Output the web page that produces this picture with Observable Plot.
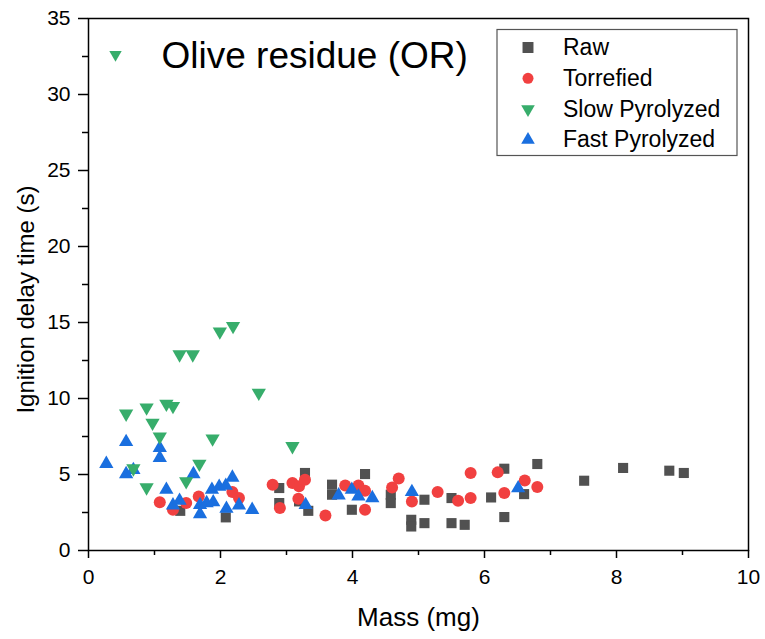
<!DOCTYPE html>
<html>
<head>
<meta charset="utf-8">
<script src="https://cdn.jsdelivr.net/npm/d3@7"></script>
<script src="https://cdn.jsdelivr.net/npm/@observablehq/plot@0.6"></script>
<style>
  html, body { margin: 0; padding: 0; background: #fff; }
  #chart { width: 765px; height: 639px; }
</style>
</head>
<body>
<div id="chart"></div>
<script>
// ---- Data ----
const seriesNames = ["Raw", "Torrefied", "Slow Pyrolyzed", "Fast Pyrolyzed"];
const seriesColors = ["#515151", "#F14040", "#37AD6B", "#1A6FDF"];

const rawMass  = [1.39, 2.08, 2.89, 2.89, 3.19, 3.28, 3.33, 3.69, 3.69, 3.99, 4.19, 4.58, 4.58, 4.89, 4.89, 5.09, 5.09, 5.50, 5.50, 5.70, 6.10, 6.30, 6.30, 6.60, 6.80, 7.51, 8.10, 8.80, 9.02];
const rawDelay = [2.61, 2.18, 4.11, 3.12, 3.23, 5.10, 2.61, 4.33, 3.67, 2.68, 5.03, 3.67, 3.12, 2.02, 1.58, 3.34, 1.80, 3.45, 1.80, 1.69, 3.49, 5.38, 2.20, 3.71, 5.69, 4.59, 5.43, 5.25, 5.10];

const torMass  = [1.08, 1.28, 1.48, 1.67, 2.18, 2.28, 2.79, 2.90, 3.09, 3.19, 3.28, 3.18, 3.59, 3.89, 4.09, 4.19, 4.19, 4.60, 4.70, 4.90, 5.29, 5.60, 5.79, 5.79, 6.20, 6.30, 6.61, 6.80];
const torDelay = [3.18, 2.68, 3.12, 3.56, 3.85, 3.45, 4.33, 2.79, 4.44, 4.22, 4.66, 3.41, 2.31, 4.28, 4.28, 3.93, 2.68, 4.15, 4.73, 3.23, 3.85, 3.28, 3.45, 5.10, 5.14, 3.78, 4.61, 4.17];

const slowMass  = [2.19, 1.99, 1.38, 1.58, 2.58, 0.57, 0.88, 1.18, 1.28, 0.97, 1.08, 1.88, 3.09, 1.68, 0.68, 1.48, 0.88];
const slowDelay = [14.77, 14.4, 12.9, 12.9, 10.37, 9.0, 9.4, 9.65, 9.5, 8.4, 7.5, 7.36, 6.86, 5.7, 5.4, 4.55, 4.15];

const fastMass  = [0.27, 0.57, 0.57, 0.68, 1.08, 1.08, 1.59, 1.18, 1.28, 1.38, 1.69, 1.69, 1.79, 1.89, 1.87, 1.98, 2.08, 2.18, 2.09, 2.28, 2.48, 3.29, 3.79, 3.99, 4.09, 4.30, 4.90, 6.51];
const fastDelay = [5.7, 7.14, 5.03, 5.3, 6.75, 6.1, 5.03, 4.0, 2.97, 3.28, 3.0, 2.4, 3.12, 3.18, 4.0, 4.2, 4.26, 4.8, 2.75, 2.97, 2.68, 3.0, 3.63, 4.0, 3.56, 3.45, 3.85, 4.1];

const xTicks = [0, 2, 4, 6, 8, 10];
const xMinorTicks = [1, 3, 5, 7, 9];
const yTicks = [0, 5, 10, 15, 20, 25, 30, 35];
const yMinorTicks = [2.5, 7.5, 12.5, 17.5, 22.5, 27.5, 32.5];

const titleText = "Olive residue (OR)";
const xLabel = "Mass (mg)";
const yLabel = "Ignition delay time (s)";

// ---- Build tables ----
const zip = (xs, ys) => xs.map((m, i) => ({mass: m, delay: ys[i]}));
const raw = zip(rawMass, rawDelay);
const tor = zip(torMass, torDelay);
const slow = zip(slowMass, slowDelay);
const fast = zip(fastMass, fastDelay);

const sqrt3 = Math.sqrt(3);
const triangleDown = {
  draw(context, size) {
    const y = -Math.sqrt(size / (sqrt3 * 3));
    context.moveTo(0, -y * 2);
    context.lineTo(-sqrt3 * y, y);
    context.lineTo(sqrt3 * y, y);
    context.closePath();
  }
};

const FONT = "Liberation Sans, Arial, sans-serif";

const plot = Plot.plot({
  width: 765,
  height: 639,
  marginLeft: 88,
  marginRight: 17,
  marginTop: 18,
  marginBottom: 89,
  style: {fontFamily: FONT, background: "#fff", color: "#000"},
  x: {domain: [0, 10]},
  y: {domain: [0, 35]},
  marks: [
    Plot.axisX({ticks: xTicks, tickSize: 8, tickPadding: 11, fontSize: 21, label: null, strokeWidth: 1.5}),
    Plot.axisX({ticks: xMinorTicks, tickSize: 5, text: null, label: null, strokeWidth: 1.5}),
    Plot.axisY({ticks: yTicks, tickSize: 10, tickPadding: 8, fontSize: 21, label: null, strokeWidth: 1.5}),
    Plot.axisY({ticks: yMinorTicks, tickSize: 6, text: null, label: null, strokeWidth: 1.5}),
    Plot.frame({stroke: "#000", strokeWidth: 1.5}),
    Plot.dot(raw, {x: "mass", y: "delay", symbol: "square", r: 5.7, fill: seriesColors[0]}),
    Plot.dot(tor, {x: "mass", y: "delay", symbol: "circle", r: 6, fill: seriesColors[1]}),
    Plot.dot(fast, {x: "mass", y: "delay", symbol: "triangle", r: 5.3, fill: seriesColors[3]}),
    Plot.dot(slow, {x: "mass", y: "delay", symbol: triangleDown, r: 5.3, fill: seriesColors[2]}),
    Plot.text([xLabel], {frameAnchor: "bottom", dy: 75, fontSize: 26, lineAnchor: "bottom", fill: "#000"}),
    Plot.text([yLabel], {frameAnchor: "left", textAnchor: "middle", rotate: -90, dx: -62, dy: 15, fontSize: 24, fill: "#000"}),
    Plot.text([titleText], {frameAnchor: "top-left", textAnchor: "start", lineAnchor: "bottom", dx: 73, dy: 49, fontSize: 37, fill: "#000"}),
    Plot.dot([titleText], {frameAnchor: "top-left", dx: 27, dy: 36, symbol: triangleDown, r: 4.6, fill: seriesColors[2]})
  ]
});

document.getElementById("chart").appendChild(plot);

// ---- Legend box (drawn onto the same SVG) ----
const svg = d3.select(plot);
const lg = svg.append("g").attr("font-family", FONT).attr("text-anchor", "start");
lg.append("rect")
  .attr("x", 497).attr("y", 29.5).attr("width", 240).attr("height", 126)
  .attr("fill", "#fff").attr("stroke", "#555").attr("stroke-width", 1.2);
const legendSymbols = [d3.symbolSquare, d3.symbolCircle, triangleDown, d3.symbolTriangle];
const legendSizes = [120, 95, 80, 80];
seriesNames.forEach((name, i) => {
  const cy = 47.5 + i * 30.8;
  lg.append("path")
    .attr("transform", `translate(528,${cy})`)
    .attr("d", d3.symbol(legendSymbols[i], legendSizes[i])())
    .attr("fill", seriesColors[i]);
  lg.append("text")
    .attr("x", 563).attr("y", cy + 7.5)
    .attr("font-size", 23)
    .attr("text-anchor", "start")
    .attr("fill", "#000")
    .text(name);
});
</script>
</body>
</html>
